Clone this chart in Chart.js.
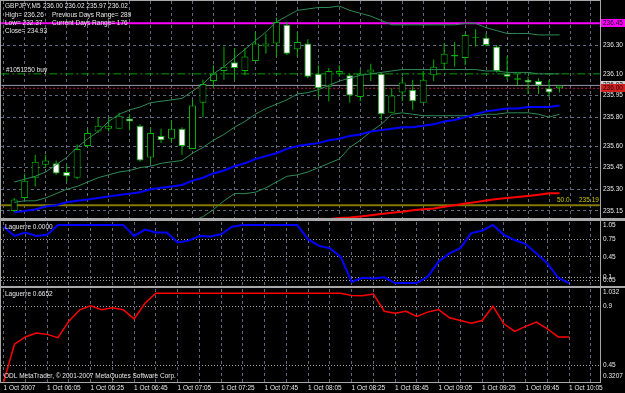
<!DOCTYPE html>
<html>
<head>
<meta charset="utf-8">
<title>GBPJPY,M5</title>
<script src="https://cdn.jsdelivr.net/npm/chart.js@4.4.1/dist/chart.umd.min.js"></script>
<style>
  html, body { margin:0; padding:0; background:#000; }
  #wrap { position:relative; width:625px; height:393px; background:#000; overflow:hidden; }
  #wrap canvas { position:absolute; left:0; display:block; }
</style>
</head>
<body>
<div id="wrap">
  <canvas id="cMain" width="625" height="219" style="top:0px"></canvas>
  <canvas id="cFast" width="625" height="69" style="top:219px"></canvas>
  <canvas id="cSlow" width="625" height="105" style="top:288px"></canvas>
</div>
<script>
// ---------- DATA ----------
const times = ["05:45","05:50","05:55","06:00","06:05","06:10","06:15","06:20","06:25","06:30",
  "06:35","06:40","06:45","06:50","06:55","07:00","07:05","07:10","07:15","07:20",
  "07:25","07:30","07:35","07:40","07:45","07:50","07:55","08:00","08:05","08:10",
  "08:15","08:20","08:25","08:30","08:35","08:40","08:45","08:50","08:55","09:00",
  "09:05","09:10","09:15","09:20","09:25","09:30","09:35","09:40","09:45","09:50",
  "09:55","10:00","10:05"];
const timeLabels = ["1 Oct 2007","1 Oct 06:05","1 Oct 06:25","1 Oct 06:45","1 Oct 07:05","1 Oct 07:25",
  "1 Oct 07:45","1 Oct 08:05","1 Oct 08:25","1 Oct 08:45","1 Oct 09:05","1 Oct 09:25","1 Oct 09:45","1 Oct 10:05"];
const labelBars = [0,4,8,12,16,20,24,28,32,36,40,44,48,52];
const gridBars = [0,2,4,6,8,10,12,14,16,18,20,22,24,26,28,30,32,34,36,38,40,42,44,46,48,50,52,54];
const priceTicks = [235.15,235.30,235.45,235.60,235.80,235.95,236.10,236.30];
const fastLevels = [0.05,0.1,0.45,0.75];
const slowLevels = [0.45,0.9];

const openP = [235.15,235.24,235.38,235.47,235.48,235.42,235.38,235.60,235.70,235.72,
  235.72,235.79,235.74,235.52,235.67,235.65,235.72,235.58,235.90,236.05,
  236.12,236.18,236.12,236.19,236.29,236.31,236.44,236.27,236.31,236.10,
  236.01,236.10,236.09,235.94,236.11,236.10,235.83,235.97,235.99,235.90,
  236.09,236.17,236.22,236.21,236.35,236.35,236.29,236.10,236.07,236.06,
  236.05,236.00,236.00];
const highP = [235.24,235.41,235.54,235.54,235.50,235.47,235.61,235.72,235.80,235.80,
  235.83,235.82,235.75,235.73,235.72,235.78,235.73,235.92,236.06,236.16,
  236.29,236.28,236.28,236.39,236.38,236.49,236.46,236.39,236.34,236.16,
  236.14,236.16,236.10,236.13,236.17,236.11,236.00,236.08,236.06,236.12,
  236.20,236.31,236.32,236.38,236.41,236.38,236.30,236.22,236.10,236.08,
  236.07,236.06,236.02];
const lowP = [235.14,235.23,235.32,235.45,235.40,235.35,235.37,235.59,235.69,235.70,
  235.72,235.71,235.49,235.48,235.62,235.62,235.54,235.58,235.80,236.00,
  236.06,236.06,236.09,236.19,236.24,236.22,236.23,236.22,236.07,235.94,
  235.91,236.08,235.90,235.91,236.05,235.78,235.83,235.91,235.85,235.90,
  236.05,236.13,236.15,236.16,236.29,236.29,236.11,236.06,236.02,235.96,
  235.96,235.94,235.97];
const closeP = [235.23,235.36,235.49,235.50,235.41,235.39,235.58,235.69,235.74,235.74,
  235.81,235.77,235.50,235.69,235.64,235.72,235.60,235.88,236.03,236.10,
  236.15,236.14,236.22,236.31,236.31,236.46,236.24,236.32,236.08,236.00,
  236.12,236.12,235.95,236.10,236.13,235.82,235.95,236.04,235.91,236.06,
  236.15,236.24,236.23,236.37,236.35,236.30,236.12,236.08,236.06,236.04,
  236.02,235.97,236.02];

const bbUpper = [235.35,235.37,235.39,235.42,235.47,235.52,235.59,235.65,235.70,235.77,
  235.82,235.85,235.87,235.90,235.91,235.92,235.93,235.98,236.03,236.10,
  236.15,236.21,236.27,236.33,236.39,236.46,236.50,236.54,236.55,236.56,
  236.56,236.57,236.54,236.52,236.50,236.47,236.44,236.44,236.44,236.44,
  236.44,236.44,236.44,236.45,236.45,236.42,236.40,236.38,236.38,236.38,
  236.37,236.37,236.37];
const bbMiddle = [235.21,235.22,235.22,235.24,235.27,235.30,235.32,235.35,235.38,235.40,
  235.42,235.43,235.45,235.46,235.48,235.49,235.50,235.55,235.59,235.64,
  235.68,235.73,235.77,235.82,235.86,235.89,235.92,235.96,235.97,235.99,
  236.02,236.05,236.07,236.09,236.10,236.11,236.12,236.13,236.13,236.13,
  236.13,236.13,236.13,236.13,236.13,236.12,236.12,236.11,236.11,236.11,
  236.10,236.10,236.10];
const bbLower = [235.06,235.06,235.05,235.06,235.07,235.08,235.06,235.05,235.05,235.03,
  235.02,235.02,235.02,235.03,235.04,235.06,235.07,235.08,235.11,235.16,
  235.22,235.27,235.27,235.28,235.31,235.35,235.39,235.40,235.42,235.45,
  235.48,235.51,235.59,235.64,235.70,235.75,235.82,235.83,235.82,235.81,
  235.81,235.81,235.81,235.81,235.81,235.82,235.82,235.83,235.83,235.83,
  235.82,235.80,235.82];
const maBlue = [235.14,235.15,235.16,235.18,235.19,235.21,235.22,235.23,235.24,235.25,
  235.26,235.27,235.28,235.30,235.31,235.32,235.33,235.36,235.38,235.41,
  235.43,235.46,235.48,235.51,235.53,235.55,235.58,235.60,235.61,235.62,
  235.64,235.65,235.67,235.68,235.70,235.71,235.72,235.73,235.73,235.74,
  235.75,235.77,235.78,235.80,235.82,235.84,235.85,235.86,235.86,235.87,
  235.87,235.87,235.88];
const maRed = [null,null,null,null,null,null,null,null,null,null,
  null,null,null,null,null,null,null,null,null,null,
  null,null,null,null,null,null,null,null,null,235.085,
  235.093,235.101,235.105,235.112,235.120,235.129,235.137,235.145,235.154,235.162,
  235.167,235.179,235.190,235.201,235.211,235.222,235.233,235.240,235.247,235.254,
  235.262,235.272,235.272];

const lagFast = [0.97,0.81,0.87,0.81,0.83,1,1,1,1,1,
  1,1,0.81,0.92,0.87,0.87,0.70,0.73,0.81,0.80,
  0.84,0.97,1,1,1,1,1,1,0.75,0.64,
  0.60,0.45,0.02,0.09,0.08,0.10,0,0,0,0.11,
  0.37,0.51,0.60,0.86,0.90,1,0.83,0.74,0.67,0.51,
  0.34,0.09,0];
const lagSlow = [0.3207,0.61,0.665,0.695,0.685,0.66,0.786,0.873,0.903,0.873,
  0.888,0.873,0.804,0.923,1,1,1,1,1,1,
  1,1,1,1,1,1,1,1,1,1,
  1,1,0.983,0.981,0.994,0.862,0.847,0.862,0.822,0.855,
  0.875,0.812,0.791,0.771,0.791,0.90,0.766,0.708,0.746,0.779,
  0.728,0.6652,0.6652];

const magentaLevel = 236.45;
const buyLevel = 236.10;
const bidLevel = 236.02;
const stopLevel = 236.00;
const fiboLevel = 235.19;

// ---------- STYLE ----------
const X_MIN = -0.24, X_MAX = 54.84;
const GREEN = '#00b400';
const BB = '#2e8b57';
const GRID = 'rgba(105,115,140,0.9)';
const LEVEL = '#a0a0a0';
const FRAME = '#a8a8a8';
const TXT = '#e6e6e6';
const FONT = "'Liberation Sans', Arial, sans-serif";
const FS = 6.5;

Chart.defaults.font.family = FONT;
Chart.defaults.font.size = FS;
Chart.defaults.color = TXT;
Chart.defaults.animation = false;
Chart.defaults.events = [];
Chart.defaults.plugins.legend.display = false;
Chart.defaults.plugins.tooltip.enabled = false;

const series = arr => arr.map((v, i) => ({x: i, y: v}));
const hline = v => [{x: X_MIN - 1, y: v}, {x: X_MAX + 1, y: v}];

function xAxis(showLabels) {
  return {
    type: 'linear', min: X_MIN, max: X_MAX, bounds: 'data',
    afterBuildTicks: s => { s.ticks = gridBars.map(v => ({value: v})); },
    afterFit: s => { s.height = showLabels ? 11 : 0; s.paddingLeft = 0; s.paddingRight = 0; },
    grid: {color: GRID, lineWidth: 1, drawTicks: false, borderDash: [3, 3]},
    border: {display: false, dash: [3, 3]},
    ticks: {
      display: showLabels, autoSkip: false, maxRotation: 0, minRotation: 0,
      align: 'start', padding: 2, color: TXT,
      callback: v => { const k = labelBars.indexOf(v); return k >= 0 ? timeLabels[k] : ''; }
    }
  };
}
function yAxis(min, max, ticks, gridColor, dash, labelFn) {
  return {
    type: 'linear', position: 'right', min, max, bounds: 'data',
    afterBuildTicks: s => { s.ticks = ticks.map(v => ({value: v})); },
    afterFit: s => { s.width = 25; s.paddingTop = 0; s.paddingBottom = 0; },
    grid: {color: gridColor, lineWidth: 1, drawTicks: false, borderDash: dash},
    border: {display: false, dash: dash},
    ticks: {autoSkip: false, padding: 3, color: TXT, callback: labelFn}
  };
}
function drawText(ctx, t, x, y, color, align) {
  ctx.fillStyle = color || TXT;
  ctx.textAlign = align || 'left';
  ctx.textBaseline = 'middle';
  ctx.fillText(t, x, y);
}
function bg() {
  return { id: 'bg', beforeDraw(chart) {
    const c = chart.ctx; c.save(); c.fillStyle = '#000'; c.fillRect(0, 0, chart.width, chart.height); c.restore();
  }};
}

// ---------- MAIN PRICE CHART ----------
const isBull = i => closeP[i] > openP[i];
const lineDs = (arr, color, w, order) => ({
  type: 'line', data: series(arr), borderColor: color, borderWidth: w,
  pointRadius: 0, tension: 0, order, clip: 0, spanGaps: false
});
const hDs = (v, color, w, dash) => ({
  type: 'line', data: hline(v), borderColor: color, borderWidth: w, borderDash: dash || [],
  pointRadius: 0, order: 20, clip: 0
});

new Chart(document.getElementById('cMain'), {
  type: 'bar',
  data: {
    datasets: [
      lineDs(maBlue, '#0000ff', 2, 1),
      lineDs(maRed, '#ff0000', 2, 1),
      lineDs(bbUpper, BB, 1, 2),
      lineDs(bbMiddle, BB, 1, 2),
      lineDs(bbLower, BB, 1, 2),
      {
        type: 'bar', data: times.map((t, i) => ({x: i, y: [openP[i], closeP[i]]})),
        grouped: false, barThickness: 7, maxBarThickness: 7, minBarLength: 1,
        backgroundColor: c => isBull(c.dataIndex) ? '#000000' : '#ffffff',
        borderColor: GREEN, borderWidth: 1, borderSkipped: false, inflateAmount: 0,
        order: 5, clip: 0
      },
      {
        type: 'bar', data: times.map((t, i) => ({x: i, y: [lowP[i], highP[i]]})),
        grouped: false, barThickness: 1, maxBarThickness: 1,
        backgroundColor: GREEN, borderWidth: 0, inflateAmount: 0,
        order: 6, clip: 0
      },
      hDs(magentaLevel, '#ff00ff', 2),
      hDs(buyLevel, '#00a000', 1, [8, 3, 2, 3]),
      hDs(bidLevel, '#9a9aaa', 1),
      hDs(stopLevel, '#b0204e', 1, [2, 2]),
      hDs(fiboLevel, '#857a00', 2)
    ]
  },
  options: {
    responsive: false, animation: false,
    layout: {padding: {left: 1, right: 0, top: 1, bottom: 1}, autoPadding: false},
    scales: {
      x: xAxis(false),
      y: Object.assign(yAxis(235.101, 236.605, priceTicks, c => (c.tick && Math.abs(c.tick.value - buyLevel) < 1e-6) ? 'rgba(0,0,0,0)' : GRID, [3, 3], v => v.toFixed(2)))
    }
  },
  plugins: [bg(), {
    id: 'mainDeco',
    afterDraw(chart) {
      const ctx = chart.ctx, a = chart.chartArea, ys = chart.scales.y;
      ctx.save();
      ctx.fillStyle = FRAME;
      ctx.fillRect(0, 0, a.right + 1, 1);
      ctx.fillRect(0, 0, 1, chart.height);
      ctx.fillRect(a.right, 0, 1, chart.height);
      ctx.fillRect(0, 218, chart.width, 1);
      ctx.font = FS + 'px ' + FONT;
      drawText(ctx, 'GBPJPY,M5', 5, 6);
      drawText(ctx, '236.00 236.02 235.97 236.02', 43, 6);
      drawText(ctx, 'High= 236.26', 5, 15);
      drawText(ctx, 'Previous Days Range= 289', 52, 15);
      drawText(ctx, 'Low= 232.37', 5, 23);
      drawText(ctx, 'Current Days Range= 176', 52, 23);
      drawText(ctx, 'Close= 234.93', 5, 31);
      drawText(ctx, '#1051250 buy', 6, ys.getPixelForValue(buyLevel) - 3.5);
      const fy = ys.getPixelForValue(fiboLevel) - 4.5;
      drawText(ctx, '50.0', 557, fy, '#c8c800');
      drawText(ctx, fiboLevel.toFixed(2), 579, fy, '#c8c800');
      const box = (v, bgc, fg) => {
        const y = ys.getPixelForValue(v);
        ctx.fillStyle = bgc;
        ctx.fillRect(a.right + 1, Math.round(y - 4), 24, 8);
        drawText(ctx, v.toFixed(2), a.right + 3, y, fg);
      };
      box(magentaLevel, '#ff00ff', '#000');
      box(bidLevel, '#d0d0d0', '#000');
      box(stopLevel, '#d42020', '#1a0000');
      ctx.restore();
    }
  }]
});

// ---------- LAGUERRE (fast) ----------
new Chart(document.getElementById('cFast'), {
  type: 'line',
  data: { datasets: [ lineDs(lagFast, '#0000ff', 2, 1) ] },
  options: {
    responsive: false, animation: false,
    layout: {padding: {left: 1, right: 0, top: 3, bottom: 2}, autoPadding: false},
    scales: { x: xAxis(false), y: yAxis(-0.05, 1.05, fastLevels, LEVEL, [1, 2], v => String(v)) }
  },
  plugins: [bg(), {
    id: 'fastDeco',
    afterDraw(chart) {
      const ctx = chart.ctx, a = chart.chartArea;
      ctx.save();
      ctx.fillStyle = FRAME;
      ctx.fillRect(0, 0, chart.width, 2);
      ctx.fillRect(0, 67, chart.width, 2);
      ctx.fillRect(0, 0, 1, chart.height);
      ctx.fillRect(a.right, 0, 1, chart.height);
      ctx.font = FS + 'px ' + FONT;
      drawText(ctx, 'Laguerre 0.0000', 5, 8.5);
      drawText(ctx, '1.05', a.right + 3, 6);
      ctx.restore();
    }
  }]
});

// ---------- LAGUERRE (slow) ----------
new Chart(document.getElementById('cSlow'), {
  type: 'line',
  data: { datasets: [ lineDs(lagSlow, '#ff0000', 1.5, 1) ] },
  options: {
    responsive: false, animation: false,
    layout: {padding: {left: 1, right: 0, top: 1, bottom: 0}, autoPadding: false},
    scales: { x: xAxis(true), y: yAxis(0.3207, 1.032, slowLevels, LEVEL, [1, 2], v => String(v)) }
  },
  plugins: [bg(), {
    id: 'slowDeco',
    afterDraw(chart) {
      const ctx = chart.ctx, a = chart.chartArea;
      ctx.save();
      ctx.fillStyle = FRAME;
      ctx.fillRect(0, 0, 1, a.bottom + 1);
      ctx.fillRect(a.right, 0, 1, a.bottom + 1);
      ctx.fillRect(0, a.bottom, a.right + 1, 1);
      ctx.font = FS + 'px ' + FONT;
      drawText(ctx, 'Laguerre 0.6652', 5, 6.7);
      drawText(ctx, 'ODL MetaTrader, \u00A9 2001-2007 MetaQuotes Software Corp.', 4, 88);
      drawText(ctx, '1.032', a.right + 3, 4.3);
      drawText(ctx, '0.3207', a.right + 3, 88.7);
      ctx.restore();
    }
  }]
});
</script>
</body>
</html>
